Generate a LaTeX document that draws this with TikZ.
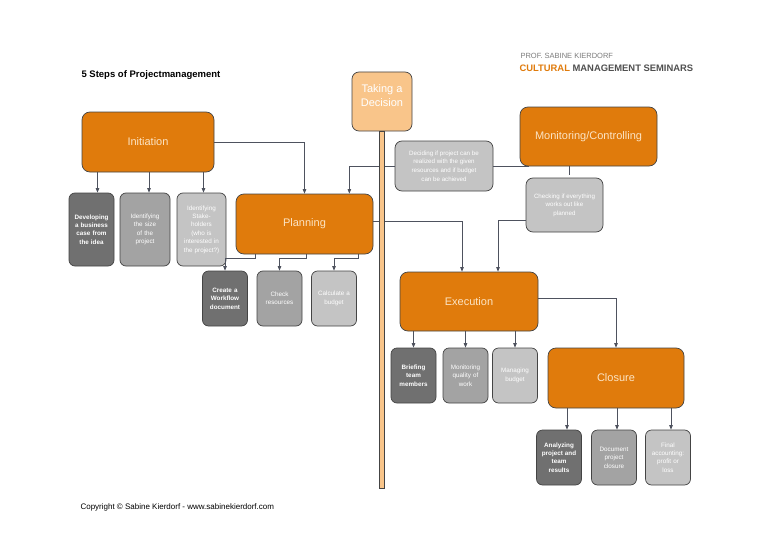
\documentclass[tikz,border=0pt]{standalone}
\usepackage{fontspec}
\setmainfont{Liberation Sans}
\usetikzlibrary{arrows.meta,calc,positioning}
\definecolor{phase}{RGB}{224,123,12}
\definecolor{phasetext}{RGB}{252,228,196}
\definecolor{decide}{RGB}{249,197,138}
\definecolor{edgegray}{RGB}{68,68,68}
\definecolor{linegray}{RGB}{78,82,94}
\definecolor{taskdark}{RGB}{112,112,112}
\definecolor{taskmid}{RGB}{163,163,163}
\definecolor{tasklight}{RGB}{196,196,196}
\definecolor{logogray}{RGB}{125,125,125}
\definecolor{logodark}{RGB}{80,80,80}

\tikzset{
  phasebox/.style={draw=edgegray,fill=phase,line width=0.7pt,rounded corners=8pt,
    minimum width=135pt,minimum height=60pt,text=phasetext,
    font=\fontsize{11}{13}\selectfont},
  decidebox/.style={draw=edgegray,fill=decide,line width=0.7pt,rounded corners=7pt,
    minimum width=60pt,minimum height=59pt,text=white,align=center,
    font=\fontsize{11}{14}\selectfont},
  notebox/.style={draw=edgegray,fill=tasklight,line width=0.7pt,rounded corners=7pt,
    text=white,align=center,inner sep=2pt,font=\fontsize{6.2}{8.6}\selectfont},
  taskbox/.style={draw=edgegray,line width=0.7pt,rounded corners=6pt,
    minimum width=45pt,minimum height=55pt,text width=44pt,inner sep=0.5pt,
    align=center,text=white,font=\fontsize{6.3}{8.4}\selectfont},
  taskA/.style={taskbox,fill=taskdark,font=\fontsize{6.3}{8.4}\selectfont\bfseries},
  taskB/.style={taskbox,fill=taskmid},
  taskC/.style={taskbox,fill=tasklight},
  link/.style={linegray,line width=0.7pt,-{Triangle[length=4.5pt,width=3.5pt]}},
  tie/.style={linegray,line width=0.7pt},
  bar/.style={draw=edgegray,fill=decide,line width=0.5pt}
}

\begin{document}
\begin{tikzpicture}[x=1pt,y=-1pt]
\useasboundingbox[fill=white] (0,0) rectangle (768,543);

% header
\node[anchor=west,font=\bfseries\fontsize{9.5}{11}\selectfont] (title)
  at (78,75) {5 Steps of Projectmanagement};
\node[anchor=west,logogray,font=\fontsize{7.5}{8}\selectfont] (logoname)
  at (517,56) {PROF. SABINE KIERDORF};
\node[anchor=west,font=\bfseries\fontsize{9.4}{10}\selectfont] (logoline)
  at (516,68) {\textcolor{phase}{CULTURAL} \textcolor{logodark}{MANAGEMENT SEMINARS}};

% phases
\node[phasebox,minimum width=132pt] (initiation) at (148,142) {Initiation};
\node[decidebox] (decision) at (382,101.5) {Taking a\\Decision\\[-2pt]\mbox{}};
\node[phasebox,minimum width=137pt,minimum height=59pt] (monitoring) at (588.5,136.5) {Monitoring/Controlling};
\node[notebox,minimum width=98pt,minimum height=50pt] (deciding) at (444,166)
  {Deciding if project can be\\realized with the given\\resources and if budget\\can be achieved};
\node[notebox,minimum width=77pt,minimum height=54pt] (checking) at (564.5,205)
  {Checking if everything\\works out like\\planned};
\node[phasebox,minimum width=137pt] (planning) at (304.5,224) {Planning};
\node[phasebox,minimum width=138pt,minimum height=59pt] (execution) at (469,301.5) {Execution};
\node[phasebox,minimum width=136pt] (closure) at (616,378) {Closure};

% tasks
\node[taskA,minimum height=73pt] (business) at (91.5,229.5) {Developing\\a business\\case from\\the idea};
\node[taskB,minimum width=50pt,minimum height=73pt] (size) at (145,229.5) {Identifying\\the size\\of the\\project};
\node[taskC,minimum width=49pt,minimum height=73pt] (stakeholders) at (201.5,229.5)
  {Identifying\\Stake-\\holders\\(who is\\interested in\\the project?)};
\node[taskA] (workflow) at (225,298.5) {Create a\\Workflow\\document};
\node[taskB] (resources) at (279.5,298.5) {Check\\resources};
\node[taskC] (budget) at (334,298.5) {Calculate a\\budget};
\node[taskA] (briefing) at (413.5,375.5) {Briefing\\team\\members};
\node[taskB] (quality) at (465.5,375.5) {Monitoring\\quality of\\work};
\node[taskC] (managing) at (515,375.5) {Managing\\budget};
\node[taskA] (analyzing) at (559,457.5) {Analyzing\\project and\\team\\results};
\node[taskB] (document) at (614,457.5) {Document\\project\\closure};
\node[taskC] (accounting) at (668,457.5) {Final\\accounting:\\profit or\\loss};

% connectors
\draw[link] ([xshift=6pt]business.north |- initiation.south) -- ([xshift=6pt]business.north);
\draw[link] ([xshift=4pt]size.north |- initiation.south) -- ([xshift=4pt]size.north);
\draw[link] ([xshift=2pt]stakeholders.north |- initiation.south) -- ([xshift=2pt]stakeholders.north);
\draw[link] (initiation.east) -| (planning.north);
\draw[link] (deciding.west) -| ($(planning.north east)+(-24,0)$);
\draw[tie] (deciding.east) -- ($(deciding.east -| monitoring.south west)+(9,0)$);
\draw[tie] ([xshift=5pt]monitoring.south -| checking.north) -- ([xshift=5pt,yshift=3pt]checking.north);
\draw[link] ([yshift=-15pt]checking.west) -| ($(execution.north)+(29,0)$);
\draw[link] ([yshift=3pt]planning.east) -| ($(execution.north)+(-7,0)$);
\draw[link] ($(planning.south)+(-49.5,0)$) -- ++(0,4) -| (workflow.north);
\draw[link] ($(planning.south)+(1.5,0)$) -- ++(0,4) -| (resources.north);
\draw[link] ($(planning.south)+(53.5,0)$) -- ++(0,4) -| (budget.north);
\foreach \t in {briefing,quality,managing}
  \draw[link] (\t.north |- execution.south) -- (\t.north);
\draw[link] ([yshift=3.5pt]execution.east) -| (closure.north);
\draw[link] ([xshift=8pt]analyzing.north |- closure.south) -- ([xshift=8pt]analyzing.north);
\foreach \t in {document,accounting}
  \draw[link] ([xshift=3pt]\t.north |- closure.south) -- ([xshift=3pt]\t.north);

% decision bar
\coordinate (barend) at (384.5,488);
\draw[bar] ([xshift=-3pt]decision.south) rectangle (barend);

% footer
\node[anchor=west,font=\fontsize{8}{9}\selectfont] (copyright)
  at (77,507) {Copyright © Sabine Kierdorf - www.sabinekierdorf.com};
\end{tikzpicture}
\end{document}
